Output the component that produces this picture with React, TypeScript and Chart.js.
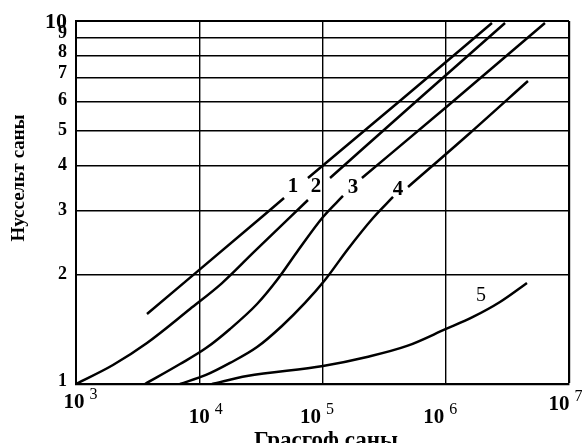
import React, { useEffect, useRef } from "react";
import { Chart, registerables } from "chart.js";

Chart.register(...registerables);

// ---- axis ticks ----
const xTicks = [1e3, 1e4, 1e5, 1e6, 1e7];
const xTickBase = ["10", "10", "10", "10", "10"];
const xTickExponents = ["3", "4", "5", "6", "7"];
const yTicks = [1, 2, 3, 4, 5, 6, 7, 8, 9, 10];
const yTickLabels = ["1", "2", "3", "4", "5", "6", "7", "8", "9", "10"];

const xTitle = "Грасгоф саны";
const yTitle = "Нуссельт саны";

// ---- curves (Gr, Nu); null = gap left for the curve label ----
const curve1X = [3767, 32890, 48750, 57680, 76210, 433500, 2371000];
const curve1Y = [1.559, 2.903, 3.253, null, 3.694, 6.06, 9.874];

const curve2X = [1000, 1995, 3767, 8414, 15310, 27290, 76210, 95000, 115100, 618000, 3027000];
const curve2Y = [1, 1.128, 1.297, 1.609, 1.897, 2.296, 3.213, null, 3.694, 6.137, 9.874];

const curve3X = [3631, 6982, 11350, 17780, 29440, 42760, 62090, 100900, 146600, 176600, 208900, 1081000, 6383000];
const curve3Y = [1, 1.135, 1.256, 1.418, 1.661, 1.934, 2.31, 2.884, 3.296, null, 3.694, 5.906, 9.874];

const curve4X = [6982, 11350, 17780, 29450, 46880, 72110, 104700, 161000, 257000, 373300, 410000, 494300, 1574000, 4645000];
const curve4Y = [1, 1.059, 1.143, 1.264, 1.445, 1.672, 1.934, 2.355, 2.866, 3.275, null, 3.489, 4.915, 6.834];

const curve5X = [12680, 24380, 100900, 229600, 485300, 1005000, 1663000, 2754000, 4560000];
const curve5Y = [1, 1.052, 1.121, 1.187, 1.273, 1.418, 1.53, 1.682, 1.897];

const curveLabels = ["1", "2", "3", "4", "5"];
const curveLabelX = [57680, 88500, 176600, 410300, 1932000];
const curveLabelY = [3.489, 3.489, 3.467, 3.423, 1.747];

// ---- styles ----
const SERIF = '"Liberation Serif", "Times New Roman", serif';
const X_LABEL_DX = [-2, 0, -12, -12, -10];
const X_LABEL_DROP = [19, 34, 34, 34, 21];
const Y_LABEL_SHIFT = [-3, 0, 0, 0, 0, -1, -4, -4, -4, 1];

const toPoints = (xs: number[], ys: (number | null)[]) =>
  xs.map((x, i) => ({ x, y: ys[i] }));

const textPlugin = {
  id: "texts",
  afterDraw(chart: any) {
    const { ctx, chartArea, scales } = chart;
    const xs = scales.x;
    const ys = scales.y;
    ctx.save();
    ctx.fillStyle = "#000";

    // y tick labels
    ctx.textAlign = "right";
    ctx.textBaseline = "middle";
    yTicks.forEach((v, i) => {
      ctx.font = v === 10 ? `bold 22px ${SERIF}` : `bold 18px ${SERIF}`;
      ctx.fillText(yTickLabels[i], chartArea.left - 9, ys.getPixelForValue(v) + Y_LABEL_SHIFT[i]);
    });

    // x tick labels with superscripts
    xTicks.forEach((v, i) => {
      const px = xs.getPixelForValue(v);
      const cy = chartArea.bottom + X_LABEL_DROP[i];
      ctx.font = `bold 21px ${SERIF}`;
      ctx.textAlign = "center";
      ctx.textBaseline = "middle";
      const cx = px + X_LABEL_DX[i];
      ctx.fillText(xTickBase[i], cx, cy);
      const w = ctx.measureText(xTickBase[i]).width;
      ctx.font = `16px ${SERIF}`;
      ctx.textAlign = "left";
      ctx.fillText(xTickExponents[i], cx + w / 2 + 5, cy - 8);
    });

    // curve labels
    ctx.textAlign = "center";
    ctx.textBaseline = "middle";
    curveLabels.forEach((t, i) => {
      ctx.font = i < 4 ? `bold 21px ${SERIF}` : `20px ${SERIF}`;
      ctx.fillText(t, xs.getPixelForValue(curveLabelX[i]), ys.getPixelForValue(curveLabelY[i]));
    });

    // axis titles
    ctx.font = `bold 23px ${SERIF}`;
    ctx.textAlign = "center";
    ctx.textBaseline = "middle";
    ctx.fillText(xTitle, 326, 441);

    ctx.save();
    ctx.translate(19, 178);
    ctx.rotate(-Math.PI / 2);
    ctx.font = `bold 19px ${SERIF}`;
    ctx.fillText(yTitle, 0, 0);
    ctx.restore();

    ctx.restore();
  },
};

export default function App() {
  const ref = useRef<HTMLCanvasElement | null>(null);

  useEffect(() => {
    if (!ref.current) return;
    const curves = [
      toPoints(curve1X, curve1Y),
      toPoints(curve2X, curve2Y),
      toPoints(curve3X, curve3Y),
      toPoints(curve4X, curve4Y),
      toPoints(curve5X, curve5Y),
    ];
    const chart = new Chart(ref.current, {
      type: "line",
      data: {
        datasets: curves.map((d, i) => ({
          label: curveLabels[i],
          data: d,
          borderColor: "#000",
          borderWidth: 2.5,
          pointRadius: 0,
          fill: false,
          spanGaps: false,
          cubicInterpolationMode: "monotone" as const,
        })),
      },
      options: {
        animation: false,
        responsive: false,
        maintainAspectRatio: false,
        devicePixelRatio: 1,
        layout: { padding: { left: 76, right: 13, top: 21, bottom: 59 } },
        plugins: { legend: { display: false }, tooltip: { enabled: false } },
        scales: {
          x: {
            type: "logarithmic",
            min: 1e3,
            max: 1e7,
            afterBuildTicks: (s: any) => {
              s.ticks = xTicks.map((v) => ({ value: v }));
            },
            ticks: { display: false },
            grid: {
              color: "#000",
              lineWidth: (c: any) => (c.index === xTicks.length - 1 ? 2.2 : 1.4),
              drawTicks: false,
            },
            border: { color: "#000", width: 2.2 },
          },
          y: {
            type: "logarithmic",
            min: 1,
            max: 10,
            afterBuildTicks: (s: any) => {
              s.ticks = yTicks.map((v) => ({ value: v }));
            },
            ticks: { display: false },
            grid: {
              color: "#000",
              lineWidth: (c: any) => (c.index === yTicks.length - 1 ? 2 : 1.4),
              drawTicks: false,
            },
            border: { color: "#000", width: 2 },
          },
        },
      },
      plugins: [textPlugin],
    });
    return () => chart.destroy();
  }, []);

  return (
    <div style={{ position: "fixed", left: 0, top: 0, width: 582, height: 443, background: "#fff" }}>
      <canvas ref={ref} width={582} height={443} style={{ display: "block" }} />
    </div>
  );
}
